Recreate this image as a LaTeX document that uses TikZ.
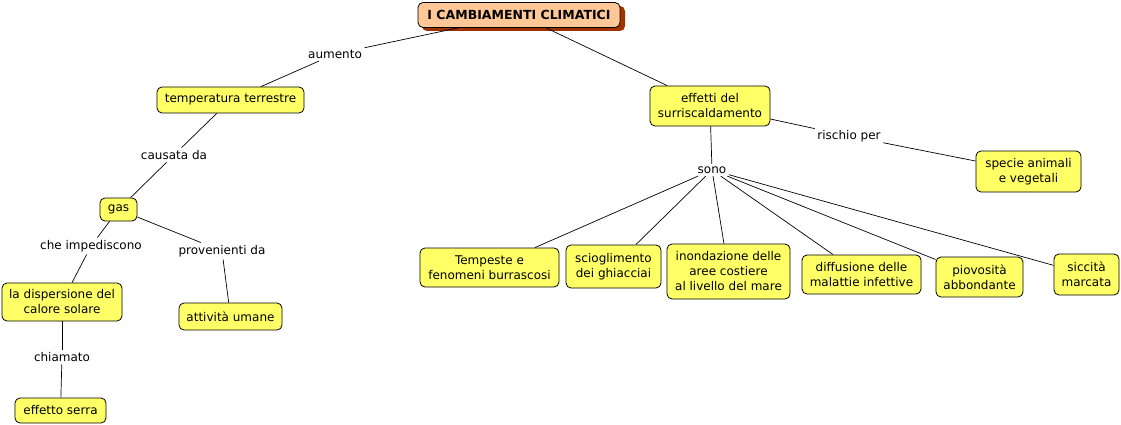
\documentclass[tikz,border=0pt]{standalone}
\usepackage{fontspec}
\setmainfont{DejaVu Sans}
\definecolor{boxyellow}{RGB}{255,255,102}
\definecolor{titlefill}{RGB}{255,200,150}
\definecolor{titleshadow}{RGB}{160,50,0}
\begin{document}
\begin{tikzpicture}[x=1pt,y=-1pt,
  cbox/.style={draw=black, line width=0.8pt, fill=boxyellow, rounded corners=5pt, align=center,
    inner sep=0pt, font=\fontsize{12}{15}\selectfont},
  titlebox/.style={draw=black, line width=0.8pt, fill=titlefill, rounded corners=5pt, align=center,
    inner sep=0pt, font=\fontsize{12.5}{15}\selectfont\bfseries},
  lbl/.style={inner sep=2.5pt, align=center, font=\fontsize{12}{15}\selectfont},
  conn/.style={draw=black, line width=0.7pt}]
\useasboundingbox (0,0) rectangle (1121,425);
% title shadow
\fill[titleshadow, rounded corners=5pt] (422,6) rectangle (625,31);
\node[titlebox, minimum width=202pt, minimum height=25pt] (title) at (519,15) {I CAMBIAMENTI CLIMATICI};

\node[cbox, minimum width=147pt, minimum height=26pt] (temp) at (230.5,100) {temperatura terrestre};
\node[cbox, minimum width=120pt, minimum height=40pt] (eff) at (710,106) {effetti del\\surriscaldamento};
\node[cbox, minimum width=37pt, minimum height=23pt] (gas) at (118.5,209.5) {gas};
\node[cbox, minimum width=120pt, minimum height=38pt] (disp) at (62,302) {la dispersione del\\calore solare};
\node[cbox, minimum width=103pt, minimum height=27pt] (att) at (230.5,316.5) {attività umane};
\node[cbox, minimum width=91pt, minimum height=25pt] (serra) at (60.5,410.5) {effetto serra};
\node[cbox, minimum width=105pt, minimum height=41pt] (spec) at (1028.5,171.5) {specie animali\\e vegetali};
\node[cbox, minimum width=139pt, minimum height=39pt] (temp2) at (489.5,267.5) {Tempeste e\\fenomeni burrascosi};
\node[cbox, minimum width=95pt, minimum height=43pt] (sciog) at (613.5,266.5) {scioglimento\\dei ghiacciai};
\node[cbox, minimum width=123pt, minimum height=55pt] (inond) at (728.5,271.5) {inondazione delle\\aree costiere\\al livello del mare};
\node[cbox, minimum width=119pt, minimum height=39pt] (diff) at (861.5,274.5) {diffusione delle\\malattie infettive};
\node[cbox, minimum width=87pt, minimum height=40pt] (piov) at (979.5,277) {piovosità\\abbondante};
\node[cbox, minimum width=65pt, minimum height=41pt] (sicc) at (1086.5,274.5) {siccità\\marcata};

\node[lbl] (laum) at (335,54) {aumento};
\node[lbl] (lcaus) at (174,155) {causata da};
\node[lbl] (limp) at (91,246) {che impediscono};
\node[lbl] (lprov) at (222,251) {provenienti da};
\node[lbl] (lchia) at (62,357) {chiamato};
\node[lbl] (lrisc) at (849,136) {rischio per};
\node[lbl] (lsono) at (712,170) {sono};

\draw[conn] (title) -- (laum);
\draw[conn] (laum) -- (temp);
\draw[conn] (title) -- (eff);
\draw[conn] (temp) -- (lcaus);
\draw[conn] (lcaus) -- (gas);
\draw[conn] (gas) -- (limp);
\draw[conn] (limp) -- (disp);
\draw[conn] (gas) -- (lprov);
\draw[conn] (lprov) -- (att);
\draw[conn] (disp) -- (lchia);
\draw[conn] (lchia) -- (serra);
\draw[conn] (eff) -- (lrisc);
\draw[conn] (lrisc) -- (spec);
\draw[conn] (eff) -- (lsono);
\draw[conn] (lsono) -- (temp2);
\draw[conn] (lsono) -- (sciog);
\draw[conn] (lsono) -- (inond);
\draw[conn] (lsono) -- (diff);
\draw[conn] (lsono) -- (piov);
\draw[conn] (lsono) -- (sicc);
\end{tikzpicture}
\end{document}
